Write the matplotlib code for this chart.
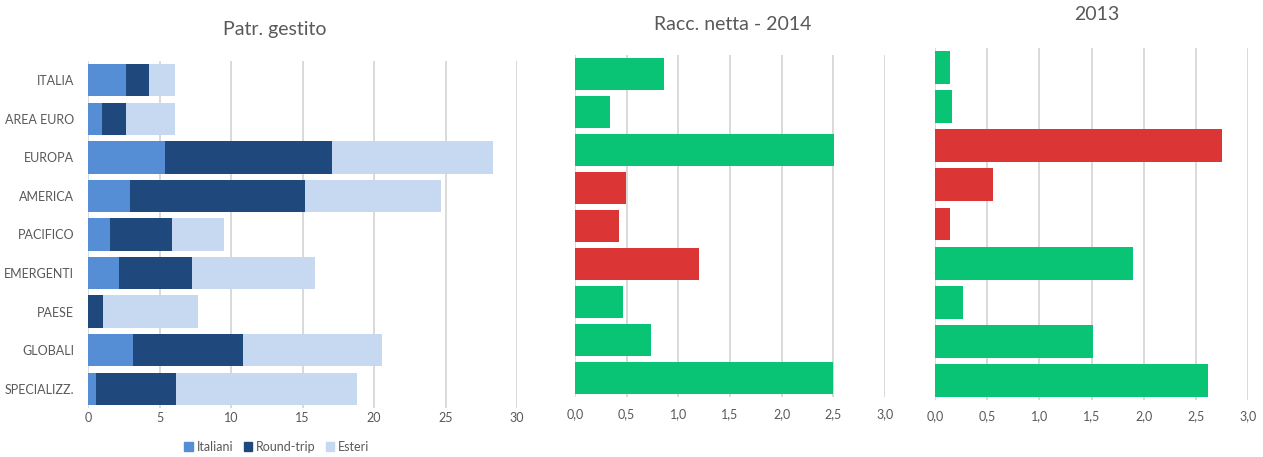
import matplotlib
matplotlib.use("Agg")
import matplotlib.pyplot as plt
from matplotlib.ticker import FuncFormatter, MultipleLocator
from matplotlib.patches import Patch
import numpy as np

plt.rcParams['font.family'] = ['Lato', 'DejaVu Sans']

categories = ["ITALIA", "AREA EURO", "EUROPA", "AMERICA", "PACIFICO",
              "EMERGENTI", "PAESE", "GLOBALI", "SPECIALIZZ."]
italiani = [2.63, 1.00, 5.39, 2.94, 1.51, 2.18, 0.00, 3.14, 0.55]
round_trip = [1.63, 1.68, 11.66, 12.26, 4.33, 5.12, 1.05, 7.73, 5.60]
esteri = [1.80, 3.42, 11.25, 9.50, 3.64, 8.57, 6.61, 9.72, 12.69]
racc_2014 = [0.86, 0.34, 2.51, -0.49, -0.43, -1.20, 0.46, 0.74, 2.50]
racc_2013 = [0.145, 0.165, -2.75, -0.56, -0.145, 1.90, 0.27, 1.51, 2.62]

C_IT = "#558ED5"
C_RT = "#1F497D"
C_ES = "#C6D9F1"
C_POS = "#0AC476"
C_NEG = "#DC3535"
GRID = "#D9D9D9"
TXT = "#595959"

W, H = 1263, 457
fig = plt.figure(figsize=(W / 100, H / 100), dpi=100)


def ax_px(left, right, top, bottom):
    return fig.add_axes([left / W, 1 - bottom / H, (right - left) / W, (bottom - top) / H])


def style(ax, xmax, step, pad):
    for s in ax.spines.values():
        s.set_visible(False)
    ax.set_xlim(0, xmax)
    ax.set_ylim(len(categories) - 0.5, -0.5)
    ax.xaxis.set_major_locator(MultipleLocator(step))
    ax.grid(axis='x', color=GRID, linewidth=1.4)
    ax.set_axisbelow(True)
    ax.tick_params(axis='both', length=0, labelsize=9, labelcolor=TXT)
    ax.tick_params(axis='x', pad=pad)


y = np.arange(len(categories))
bh = 0.84

# Panel 1
ax1 = ax_px(88, 517, 61, 408)
style(ax1, 30, 5, 3)
left = np.zeros(len(categories))
ax1.barh(y, italiani, height=bh, left=left, color=C_IT, label="Italiani")
left = left + np.array(italiani)
ax1.barh(y, round_trip, height=bh, left=left, color=C_RT, label="Round-trip")
left = left + np.array(round_trip)
ax1.barh(y, esteri, height=bh, left=left, color=C_ES, label="Esteri")
ax1.set_yticks(y)
ax1.set_yticklabels(categories)
ax1.tick_params(axis='y', pad=10)
ax1.xaxis.set_major_formatter(FuncFormatter(lambda v, p: f"{v:.0f}"))

comma = FuncFormatter(lambda v, p: f"{v:.1f}".replace('.', ','))

# Panel 2
ax2 = ax_px(575, 885, 55, 397)
style(ax2, 3.0, 0.5, 8)
vals = np.array(racc_2014)
ax2.barh(y, np.abs(vals), height=bh, color=[C_POS if v >= 0 else C_NEG for v in vals])
ax2.set_yticks([])
ax2.xaxis.set_major_formatter(comma)

# Panel 3
ax3 = ax_px(935, 1248, 48, 400)
style(ax3, 3.0, 0.5, 7)
vals = np.array(racc_2013)
ax3.barh(y, np.abs(vals), height=bh, color=[C_POS if v >= 0 else C_NEG for v in vals])
ax3.set_yticks([])
ax3.xaxis.set_major_formatter(comma)

# Titles
fig.text(275 / W, 1 - 30 / H, "Patr. gestito", ha='center', va='center', fontsize=14, color=TXT)
fig.text(733 / W, 1 - 24 / H, "Racc. netta - 2014", ha='center', va='center', fontsize=14, color=TXT)
fig.text(1097 / W, 1 - 15 / H, "2013", ha='center', va='center', fontsize=14, color=TXT)

# Legend
handles = [Patch(color=C_IT, label="Italiani"), Patch(color=C_RT, label="Round-trip"),
           Patch(color=C_ES, label="Esteri")]
leg = fig.legend(handles=handles, loc='center', bbox_to_anchor=(277 / W, 1 - 447 / H), ncol=3,
                 frameon=False, fontsize=9, handlelength=0.7, handleheight=0.7,
                 handletextpad=0.3, columnspacing=0.8, labelcolor=TXT)

fig.savefig("out.png", dpi=100, facecolor='white')
